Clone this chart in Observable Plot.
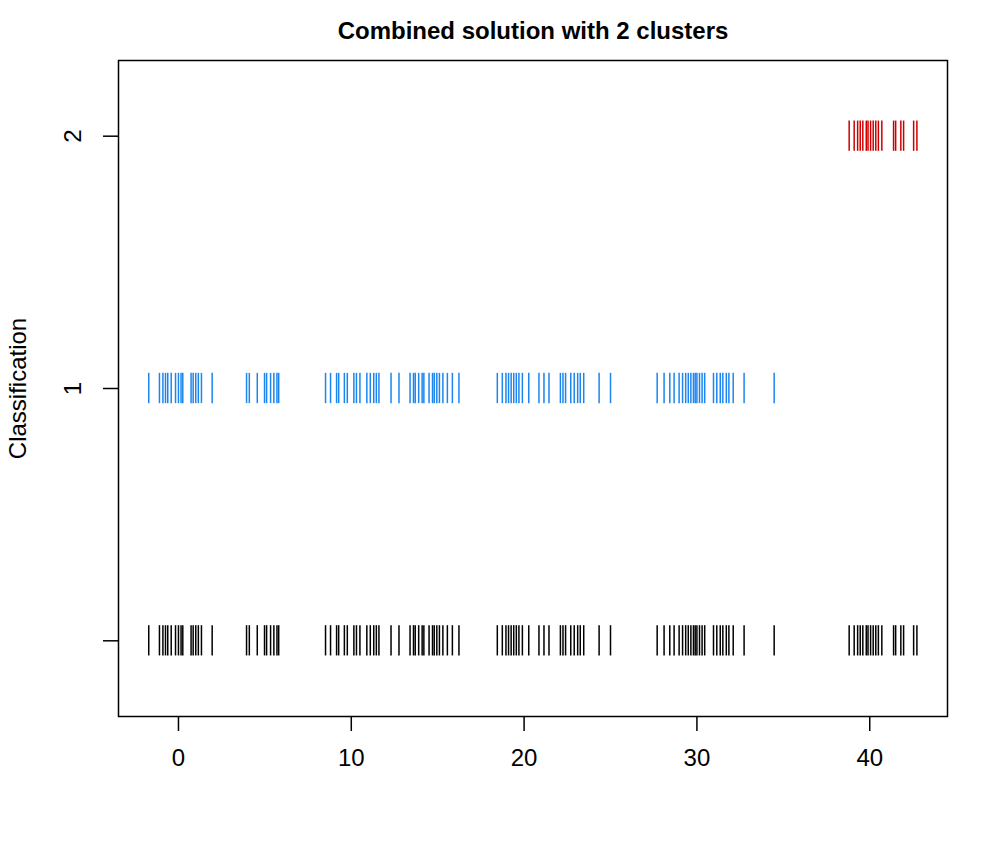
<!DOCTYPE html>
<html><head><meta charset="utf-8">
<script src="https://cdn.jsdelivr.net/npm/d3@7"></script>
<script src="https://cdn.jsdelivr.net/npm/@observablehq/plot@0.6"></script>
<style>body{margin:0;background:#fff;font-family:"Liberation Sans",Arial,sans-serif}</style>
</head><body><div id="chart"></div>
<script>
const cluster1 = [-1.72,-1.1,-0.9,-0.75,-0.62,-0.42,-0.17,0.0,0.15,0.25,0.73,0.85,1.0,1.15,1.33,1.95,
3.94,4.1,4.56,4.98,5.1,5.33,5.52,5.7,5.8,
8.51,8.8,9.15,9.27,9.6,9.77,10.15,10.3,10.5,10.9,11.1,11.3,11.45,11.6,12.3,12.76,
13.4,13.6,13.7,13.9,14.1,14.2,14.5,14.7,14.8,14.95,15.1,15.3,15.56,15.85,16.23,
18.45,18.74,18.95,19.1,19.25,19.4,19.55,19.7,19.9,20.27,20.86,21.15,21.44,22.1,22.25,22.4,22.7,22.9,23.1,23.25,23.45,24.34,25.0,
27.7,28.1,28.43,28.68,28.97,29.17,29.35,29.5,29.65,29.8,29.9,30.0,30.15,30.3,30.45,30.96,31.15,31.35,31.5,31.7,31.85,32.1,32.73,34.47];
const cluster2 = [38.81,39.1,39.3,39.45,39.6,39.8,39.9,40.05,40.2,40.35,40.5,40.7,41.38,41.5,41.8,41.96,42.54,42.73];
const rowLevels = [0, 1, 2];
const rowColors = ["#000000", "#1C86EE", "#CD0000"];
const yTickLabels = ["", "1", "2"];
const xTicks = [0, 10, 20, 30, 40];
const titleText = "Combined solution with 2 clusters";
const yLabel = "Classification";

const rows = [
  ...cluster1.concat(cluster2).map(v => ({x: v, row: 0})),
  ...cluster1.map(v => ({x: v, row: 1})),
  ...cluster2.map(v => ({x: v, row: 2}))
];
const half = 0.06;

const chart = Plot.plot({
  width: 1008, height: 864,
  marginLeft: 118, marginRight: 61, marginTop: 60, marginBottom: 148,
  style: {fontFamily: '"Liberation Sans", Arial, sans-serif', background: "#fff"},
  x: {domain: [-3.47, 44.5]},
  y: {domain: [-0.3, 2.3]},
  marks: [
    Plot.ruleX(rows, {x: "x", y1: d => d.row - half, y2: d => d.row + half,
      stroke: d => rowColors[d.row], strokeWidth: 1.5}),
    Plot.frame({stroke: "#000", strokeWidth: 1.5}),
    Plot.axisX({ticks: xTicks, tickSize: 15, tickPadding: 17, fontSize: 24, label: null, tickFormat: d => String(d), strokeWidth: 1.5}),
    Plot.axisY({ticks: rowLevels, tickSize: 15, text: null, label: null, strokeWidth: 1.5}),
    Plot.text(rowLevels, {y: d => d, text: d => yTickLabels[d], frameAnchor: "left", dx: -45, rotate: -90, textAnchor: "middle", lineAnchor: "middle", fontSize: 24, fill: "#000"}),
    Plot.text([titleText], {text: d => d, frameAnchor: "top", dy: -29, lineAnchor: "middle", fontSize: 24, fontWeight: "bold", fill: "#000"}),
    Plot.text([yLabel], {text: d => d, frameAnchor: "left", dx: -100, rotate: -90, textAnchor: "middle", lineAnchor: "middle", fontSize: 24, fill: "#000"})
  ]
});
document.getElementById("chart").appendChild(chart);
</script></body></html>
